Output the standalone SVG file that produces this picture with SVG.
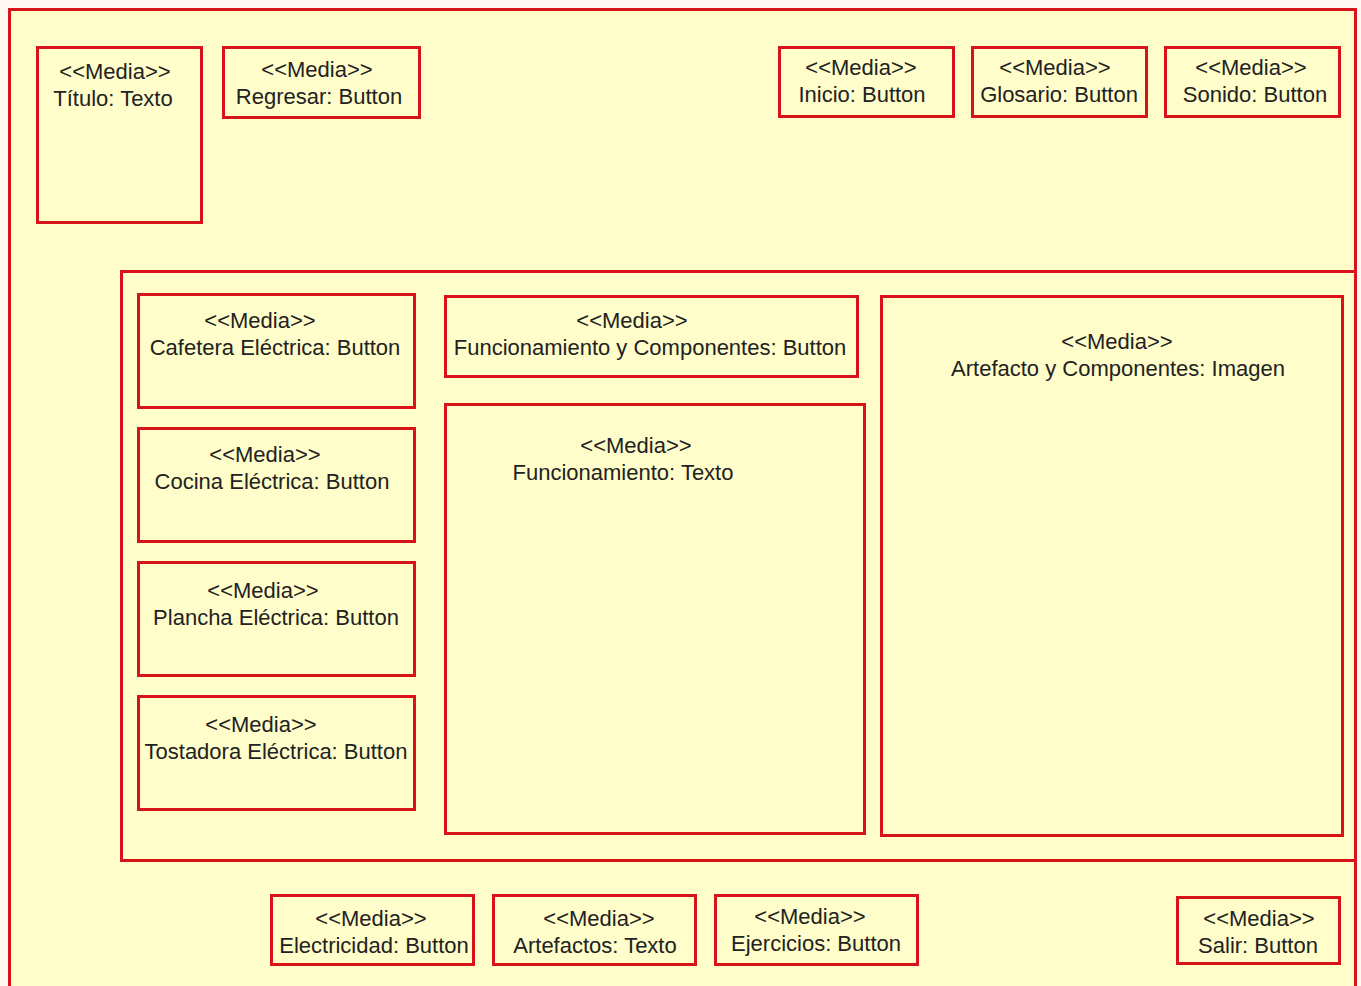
<svg xmlns="http://www.w3.org/2000/svg" width="1361" height="986" viewBox="0 0 1361 986">
  <style>
    .box { fill: #FFFDC9; stroke: #D8141A; stroke-width: 3; }
    .panel { fill: none; stroke: #D8141A; stroke-width: 3; }
    text { font-family: "Liberation Sans", Arial, sans-serif; font-size: 22px; fill: #222; text-anchor: middle; }
  </style>
  <!-- page background and outer frame -->
  <rect x="0" y="0" width="1361" height="986" fill="#FFF7F2"/>
  <rect id="frame" class="box" x="9.5" y="9.5" width="1346" height="1000"/>
  <!-- central content panel -->
  <rect id="panel" class="panel" x="121.5" y="271.5" width="1234" height="589"/>

  <g id="titulo"><rect class="box" x="37.5" y="47.5" width="164" height="175"/>
    <text x="115" y="79">&lt;&lt;Media&gt;&gt;</text><text x="113" y="106">Título: Texto</text></g>
  <g id="regresar"><rect class="box" x="223.5" y="47.5" width="196" height="70"/>
    <text x="317" y="77">&lt;&lt;Media&gt;&gt;</text><text x="319" y="104">Regresar: Button</text></g>
  <g id="inicio"><rect class="box" x="779.5" y="47.5" width="174" height="69"/>
    <text x="861" y="75">&lt;&lt;Media&gt;&gt;</text><text x="862" y="102">Inicio: Button</text></g>
  <g id="glosario"><rect class="box" x="972.5" y="47.5" width="174" height="69"/>
    <text x="1055" y="75">&lt;&lt;Media&gt;&gt;</text><text x="1059" y="102">Glosario: Button</text></g>
  <g id="sonido"><rect class="box" x="1165.5" y="47.5" width="174" height="69"/>
    <text x="1251" y="75">&lt;&lt;Media&gt;&gt;</text><text x="1255" y="102">Sonido: Button</text></g>

  <g id="cafetera"><rect class="box" x="138.5" y="294.5" width="276" height="113"/>
    <text x="260" y="328">&lt;&lt;Media&gt;&gt;</text><text x="275" y="355">Cafetera Eléctrica: Button</text></g>
  <g id="cocina"><rect class="box" x="138.5" y="428.5" width="276" height="113"/>
    <text x="265" y="462">&lt;&lt;Media&gt;&gt;</text><text x="272" y="489">Cocina Eléctrica: Button</text></g>
  <g id="plancha"><rect class="box" x="138.5" y="562.5" width="276" height="113"/>
    <text x="263" y="598">&lt;&lt;Media&gt;&gt;</text><text x="276" y="625">Plancha Eléctrica: Button</text></g>
  <g id="tostadora"><rect class="box" x="138.5" y="696.5" width="276" height="113"/>
    <text x="261" y="732">&lt;&lt;Media&gt;&gt;</text><text x="276" y="759">Tostadora Eléctrica: Button</text></g>

  <g id="funcionamiento-componentes"><rect class="box" x="445.5" y="296.5" width="412" height="80"/>
    <text x="632" y="328">&lt;&lt;Media&gt;&gt;</text><text x="650" y="355">Funcionamiento y Componentes: Button</text></g>
  <g id="funcionamiento"><rect class="box" x="445.5" y="404.5" width="419" height="429"/>
    <text x="636" y="453">&lt;&lt;Media&gt;&gt;</text><text x="623" y="480">Funcionamiento: Texto</text></g>
  <g id="artefacto-imagen"><rect class="box" x="881.5" y="296.5" width="461" height="539"/>
    <text x="1117" y="349">&lt;&lt;Media&gt;&gt;</text><text x="1118" y="376">Artefacto y Componentes: Imagen</text></g>

  <g id="electricidad"><rect class="box" x="271.5" y="895.5" width="202" height="69"/>
    <text x="371" y="926">&lt;&lt;Media&gt;&gt;</text><text x="374" y="953">Electricidad: Button</text></g>
  <g id="artefactos"><rect class="box" x="493.5" y="895.5" width="202" height="69"/>
    <text x="599" y="926">&lt;&lt;Media&gt;&gt;</text><text x="595" y="953">Artefactos: Texto</text></g>
  <g id="ejercicios"><rect class="box" x="715.5" y="895.5" width="202" height="69"/>
    <text x="810" y="924">&lt;&lt;Media&gt;&gt;</text><text x="816" y="951">Ejercicios: Button</text></g>
  <g id="salir"><rect class="box" x="1177.5" y="897.5" width="162" height="66"/>
    <text x="1259" y="926">&lt;&lt;Media&gt;&gt;</text><text x="1258" y="953">Salir: Button</text></g>

  <!-- no connectors in this layout -->
  <g id="connectors"/>
</svg>
